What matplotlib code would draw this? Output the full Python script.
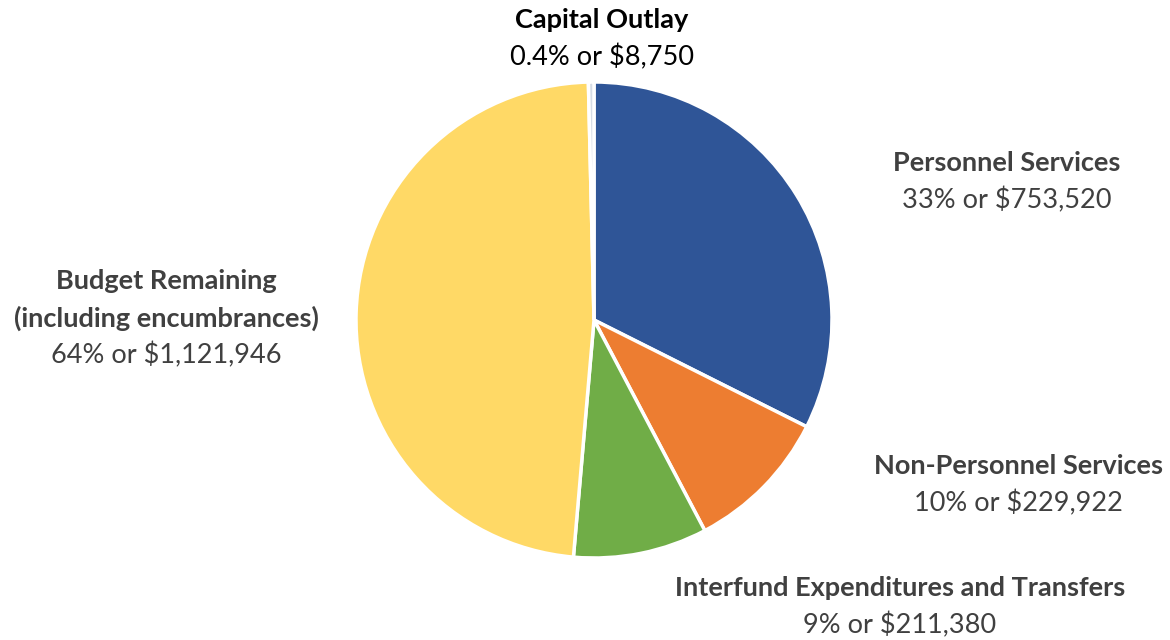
import matplotlib
matplotlib.use("Agg")
import matplotlib.pyplot as plt

categories = ["Personnel Services", "Non-Personnel Services",
              "Interfund Expenditures and Transfers",
              "Budget Remaining\n(including encumbrances)", "Capital Outlay"]
amounts = [753520, 229922, 211380, 1121946, 8750]
pct_labels = ["33%", "10%", "9%", "64%", "0.4%"]
colors = ["#2F5597", "#ED7D31", "#70AD47", "#FFD966", "#D6DCE5"]

# label centres in pixels (x, y from top)
label_pos = [(1007, 163), (1018, 466), (900, 588), (166, 281), (602, 20)]

W, H = 1170, 640
plt.rcParams["font.family"] = ["Lato", "DejaVu Sans"]
fig = plt.figure(figsize=(W / 100, H / 100), dpi=100)

cx, cy, r = 594, 320, 238
ax = fig.add_axes([(cx - r) / W, (H - cy - r) / H, 2 * r / W, 2 * r / H])
ax.pie(amounts, colors=colors, startangle=90, counterclock=False,
       wedgeprops=dict(edgecolor="white", linewidth=2.5))
ax.set_xlim(-1, 1); ax.set_ylim(-1, 1); ax.set_aspect("equal")
ax.axis("off")

line_h = 37
for name, amt, pct, (x, y), col in zip(categories, amounts, pct_labels, label_pos, colors):
    tc = "black" if name == "Capital Outlay" else "#404040"
    lines = name.split("\n")
    for i, ln in enumerate(lines):
        fig.text(x / W, 1 - (y + i * line_h) / H, ln, ha="center", va="center",
                 fontsize=19.5, fontweight="bold", color=tc)
    fig.text(x / W, 1 - (y + len(lines) * line_h) / H, f"{pct} or ${amt:,}",
             ha="center", va="center", fontsize=19.5, color=tc)

fig.savefig("out.png", dpi=100)
